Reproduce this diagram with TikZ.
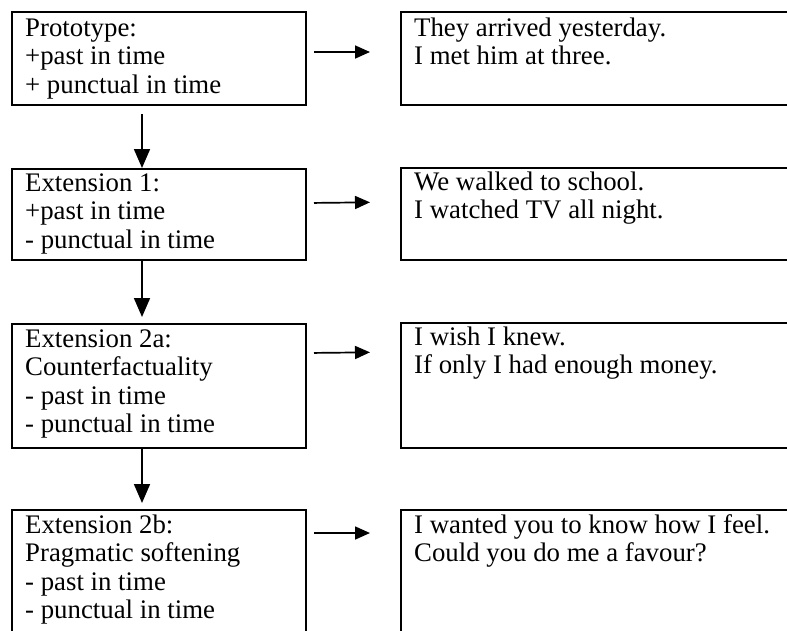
\documentclass[tikz,border=0pt]{standalone}
\usepackage{fontspec}
\setmainfont{Liberation Serif}
\usetikzlibrary{arrows.meta}
\begin{document}
\begin{tikzpicture}[x=1pt,y=-1pt,
  box/.style={draw, line width=2pt, inner sep=0pt, anchor=north west},
  lbox/.style={box, minimum width=294pt},
  rbox/.style={box, minimum width=420pt},
  txt/.style={anchor=north west, inner sep=0pt, align=left,
    font=\fontsize{26.8pt}{28.5pt}\selectfont},
  harr/.style={line width=1.7pt, -{Triangle[length=15pt,width=13pt]}},
  varr/.style={line width=1.7pt, -{Triangle[length=19pt,width=16pt]}}]
\useasboundingbox (0,0) rectangle (787,630);
\clip (0,0) rectangle (787,630);
\fill[white] (0,0) rectangle (787,630);
% left column
\node[lbox, minimum height=93pt]  (L1) at (11,11) {};
\node[lbox, minimum height=91pt]  (L2) at (11,168) {};
\node[lbox, minimum height=124pt] (L3) at (11,323) {};
\node[lbox, minimum height=150pt] (L4) at (11,509) {};
% right column
\node[rbox, minimum height=93pt]  (R1) at (400,11) {};
\node[rbox, minimum height=92pt]  (R2) at (400,167) {};
\node[rbox, minimum height=125pt] (R3) at (400,322) {};
\node[rbox, minimum height=150pt] (R4) at (400,509) {};
% texts
\node[txt] (tL1) at ([xshift=14pt]L1.north west) {\rule{0pt}{25pt}Prototype:\\+past in time\\+ punctual in time};
\node[txt] (tL2) at ([xshift=14pt]L2.north west) {\rule{0pt}{23pt}Extension 1:\\+past in time\\- punctual in time};
\node[txt] (tL3) at ([xshift=14pt]L3.north west) {\rule{0pt}{24pt}Extension 2a:\\Counterfactuality\\- past in time\\- punctual in time};
\node[txt] (tL4) at ([xshift=14pt]L4.north west) {\rule{0pt}{24pt}Extension 2b:\\Pragmatic softening\\- past in time\\- punctual in time};
\node[txt] (tR1) at ([xshift=14pt]R1.north west) {\rule{0pt}{25pt}They arrived yesterday.\\I met him at three.};
\node[txt] (tR2) at ([xshift=14pt]R2.north west) {\rule{0pt}{23pt}We walked to school.\\I watched TV all night.};
\node[txt] (tR3) at ([xshift=14pt]R3.north west) {\rule{0pt}{23pt}I wish I knew.\\If only I had enough money.};
\node[txt] (tR4) at ([xshift=14pt]R4.north west) {\rule{0pt}{24pt}I wanted you to know how I feel.\\Could you do me a favour?};
% horizontal arrows
\draw[harr, shorten <=7pt, shorten >=30pt] ([yshift=-41pt]L1.north east) -- ([yshift=-41pt]R1.north west);
\draw[harr, shorten <=7pt, shorten >=30pt] ([yshift=-35pt]L2.north east) -- ([yshift=-35pt]R2.north west);
\draw[harr, shorten <=7pt, shorten >=30pt] ([yshift=-30pt]L3.north east) -- ([yshift=-30pt]R3.north west);
\draw[harr, shorten <=7pt, shorten >=30pt] ([yshift=-24pt]L4.north east) -- ([yshift=-24pt]R4.north west);
% vertical arrows
\draw[varr, shorten <=8pt] ([xshift=-17pt]L1.south) -- ([xshift=-17pt]L2.north);
\draw[varr, shorten >=6pt] ([xshift=-17pt]L2.south) -- ([xshift=-17pt]L3.north);
\draw[varr, shorten >=6pt] ([xshift=-17pt]L3.south) -- ([xshift=-17pt]L4.north);
\end{tikzpicture}
\end{document}
